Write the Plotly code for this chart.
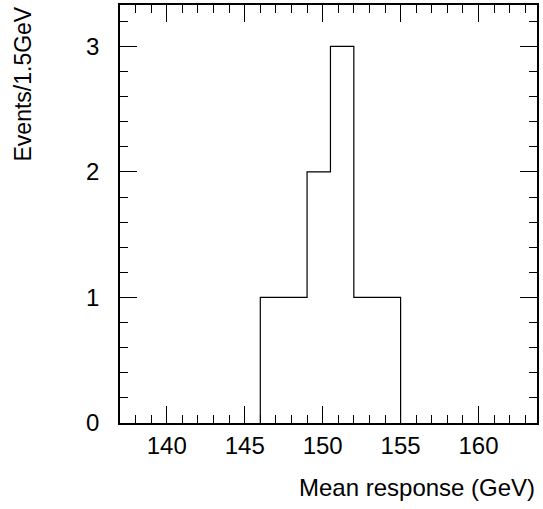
import plotly.graph_objects as go

bin_edges = [146.0, 147.5, 149.0, 150.5, 152.0, 153.5, 155.0]
counts = [1, 1, 2, 3, 1, 1]
x_title = "Mean response (GeV)"
y_title = "Events/1.5GeV"

xs = [bin_edges[0]] + bin_edges
ys = [0] + counts + [0]

FONT = "Arial"
FS = 24

fig = go.Figure()
fig.add_trace(go.Scatter(x=xs, y=ys, mode="lines", line=dict(shape="hv", color="black", width=1.2),
                         hoverinfo="skip", showlegend=False))

XR = [137, 163.75]
YR = [0, 3.33]

# invisible traces to activate the extra minor-tick axes (top/right)
for xa, ya in [("x2", "y"), ("x", "y2")]:
    fig.add_trace(go.Scatter(x=[xs[0]], y=[ys[0]], xaxis=xa, yaxis=ya, mode="markers",
                             marker=dict(opacity=0), hoverinfo="skip", showlegend=False))

def ax(**kw):
    d = dict(showgrid=False, zeroline=False, showline=True, linecolor="black", linewidth=1.5,
             ticks="inside", tickcolor="black", tickwidth=1.2, automargin=False,
             tickfont=dict(family=FONT, size=FS, color="black"))
    d.update(kw)
    return d

fig.update_layout(
    xaxis=ax(range=XR, tickmode="linear", tick0=140, dtick=5, ticklen=17, ticklabelstandoff=0, mirror="ticks",
             minor=dict(ticks="inside", dtick=1, tick0=140, ticklen=8, tickcolor="black", tickwidth=1.2)),
    yaxis=ax(range=YR, tickmode="linear", tick0=0, dtick=1, ticklen=17, ticklabelstandoff=14, mirror="ticks",
             minor=dict(ticks="inside", dtick=0.2, tick0=0, ticklen=8, tickcolor="black", tickwidth=1.2)),
    xaxis2=ax(range=XR, overlaying="x", side="top", anchor="y", showticklabels=False,
              tickmode="linear", tick0=140, dtick=1, ticklen=8),
    yaxis2=ax(range=YR, overlaying="y", side="right", anchor="x", showticklabels=False,
              tickmode="linear", tick0=0, dtick=0.2, ticklen=8),
)

fig.add_annotation(text=x_title, xref="paper", yref="paper", x=1.0, y=-0.155, xanchor="right", yanchor="middle",
                   showarrow=False, font=dict(family=FONT, size=FS, color="black"))
fig.add_annotation(text=y_title, xref="paper", yref="paper", x=-0.235, y=1.0, xanchor="center", yanchor="top",
                   textangle=-90, showarrow=False, font=dict(family=FONT, size=23, color="black"))

fig.update_layout(width=543, height=509, margin=dict(l=120, r=6, t=5, b=86, autoexpand=False),
                  plot_bgcolor="white", paper_bgcolor="white")

fig.write_html("out.html", config={"displayModeBar": False},
               post_script="document.body.style.margin='0';document.body.style.overflow='hidden';")
